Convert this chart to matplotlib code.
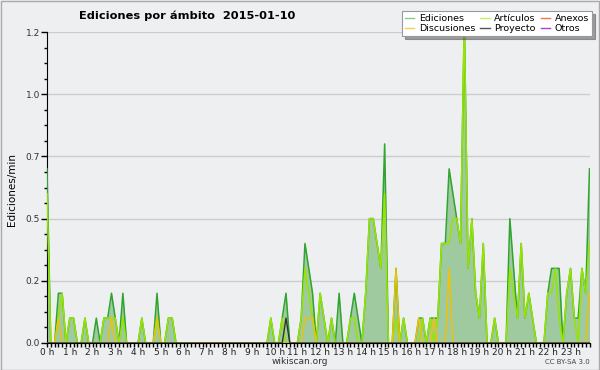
import numpy as np
import matplotlib
matplotlib.use("Agg")
import matplotlib.pyplot as plt
from matplotlib.lines import Line2D
from matplotlib.ticker import FixedLocator, FixedFormatter, MultipleLocator

# --- DATA: edits per minute, 10-minute bins (one row per hour) ---
ediciones = [
    0.7, 0.0, 0.0, 0.2, 0.2, 0.0,   # 0 h
    0.1, 0.1, 0.0, 0.0, 0.1, 0.0,   # 1 h
    0.0, 0.1, 0.0, 0.1, 0.1, 0.2,   # 2 h
    0.1, 0.0, 0.2, 0.0, 0.0, 0.0,   # 3 h
    0.0, 0.1, 0.0, 0.0, 0.0, 0.2,   # 4 h
    0.0, 0.0, 0.1, 0.1, 0.0, 0.0,   # 5 h
    0.0, 0.0, 0.0, 0.0, 0.0, 0.0,   # 6 h
    0.0, 0.0, 0.0, 0.0, 0.0, 0.0,   # 7 h
    0.0, 0.0, 0.0, 0.0, 0.0, 0.0,   # 8 h
    0.0, 0.0, 0.0, 0.0, 0.0, 0.1,   # 9 h
    0.0, 0.0, 0.1, 0.2, 0.0, 0.0,   # 10 h
    0.0, 0.1, 0.4, 0.3, 0.2, 0.0,   # 11 h
    0.2, 0.1, 0.0, 0.1, 0.0, 0.2,   # 12 h
    0.0, 0.0, 0.1, 0.2, 0.1, 0.0,   # 13 h
    0.2, 0.5, 0.5, 0.4, 0.3, 0.8,   # 14 h
    0.0, 0.0, 0.3, 0.0, 0.1, 0.0,   # 15 h
    0.0, 0.0, 0.1, 0.1, 0.0, 0.1,   # 16 h
    0.1, 0.1, 0.4, 0.4, 0.7, 0.6,   # 17 h
    0.5, 0.4, 1.3, 0.3, 0.5, 0.2,   # 18 h
    0.1, 0.4, 0.0, 0.0, 0.1, 0.0,   # 19 h
    0.0, 0.0, 0.5, 0.3, 0.1, 0.4,   # 20 h
    0.1, 0.2, 0.1, 0.0, 0.0, 0.0,   # 21 h
    0.2, 0.3, 0.3, 0.3, 0.0, 0.2,   # 22 h
    0.3, 0.1, 0.1, 0.3, 0.2, 0.7,   # 23 h
]

articulos = [
    0.6, 0.0, 0.0, 0.1, 0.2, 0.0,
    0.1, 0.1, 0.0, 0.0, 0.1, 0.0,
    0.0, 0.0, 0.0, 0.1, 0.1, 0.1,
    0.1, 0.0, 0.1, 0.0, 0.0, 0.0,
    0.0, 0.1, 0.0, 0.0, 0.0, 0.1,
    0.0, 0.0, 0.1, 0.1, 0.0, 0.0,
    0.0, 0.0, 0.0, 0.0, 0.0, 0.0,
    0.0, 0.0, 0.0, 0.0, 0.0, 0.0,
    0.0, 0.0, 0.0, 0.0, 0.0, 0.0,
    0.0, 0.0, 0.0, 0.0, 0.0, 0.1,
    0.0, 0.0, 0.1, 0.0, 0.0, 0.0,
    0.0, 0.1, 0.3, 0.2, 0.1, 0.0,
    0.2, 0.1, 0.0, 0.1, 0.0, 0.0,
    0.0, 0.0, 0.1, 0.1, 0.0, 0.0,
    0.2, 0.5, 0.5, 0.4, 0.3, 0.6,
    0.0, 0.0, 0.1, 0.0, 0.1, 0.0,
    0.0, 0.0, 0.0, 0.1, 0.0, 0.1,
    0.0, 0.1, 0.4, 0.4, 0.4, 0.5,
    0.5, 0.4, 1.3, 0.3, 0.5, 0.2,
    0.1, 0.4, 0.0, 0.0, 0.1, 0.0,
    0.0, 0.0, 0.3, 0.2, 0.1, 0.4,
    0.1, 0.2, 0.1, 0.0, 0.0, 0.0,
    0.2, 0.2, 0.3, 0.1, 0.0, 0.2,
    0.3, 0.1, 0.0, 0.3, 0.2, 0.4,
]

# sparse series: (bin index, value)
discusiones = [0.0] * 144
for b, v in [(3, 0.1), (17, 0.1), (29, 0.1), (68, 0.1), (69, 0.1), (70, 0.1),
             (92, 0.3), (98, 0.1), (102, 0.1), (106, 0.3), (143, 0.2)]:
    discusiones[b] = v

proyecto = [0.0] * 144
proyecto[63] = 0.1

anexos = [0.0] * 144
otros = [0.0] * 144

hour_labels = [f"{h} h" for h in range(24)]
ytick_vals = [0.0, 0.25, 0.5, 0.75, 1.0, 1.25]
ytick_labels = ["0.0", "0.2", "0.5", "0.7", "1.0", "1.2"]

# --- COLOURS ---
BG = "#eeeff1"
C_FILL = "#9fca9f"
C_EDIC = "#2fa52f"
C_ART = "#96e400"
C_DISC = "#f2c200"
C_PROY = "#333333"
C_ANEX = "#ee7744"
C_OTROS = "#9944ee"

x = np.arange(len(ediciones)) / 6.0

fig = plt.figure(figsize=(6, 3.7), dpi=100, facecolor=BG)
ax = fig.add_axes([47 / 600, 27 / 370, (589.5 - 47) / 600, (343 - 32) / 370])
ax.set_facecolor(BG)

ax.fill_between(x, ediciones, color=C_FILL, lw=0, zorder=2)
ax.plot(x, ediciones, color=C_EDIC, lw=1.1, zorder=3)
ax.plot(x, articulos, color=C_ART, lw=1.1, zorder=4)
ax.plot(x, anexos, color=C_ANEX, lw=0, zorder=4)
ax.plot(x, otros, color=C_OTROS, lw=0, zorder=4)
ax.plot(x, discusiones, color=C_DISC, lw=1.0, zorder=5)
ax.plot(x, proyecto, color=C_PROY, lw=1.0, zorder=6)

ax.set_xlim(0, x[-1])
ax.set_ylim(0, 1.25)

# grid + axes
for v in ytick_vals[1:]:
    ax.axhline(v, color="#cccccc", lw=1.0, zorder=1)
for s in ["top", "right"]:
    ax.spines[s].set_visible(False)
ax.spines["left"].set_color("black")
ax.spines["bottom"].set_color("black")
ax.spines["bottom"].set_zorder(7)

ax.xaxis.set_major_locator(FixedLocator(range(24)))
ax.xaxis.set_major_formatter(FixedFormatter(hour_labels))
ax.xaxis.set_minor_locator(MultipleLocator(1 / 6))
ax.yaxis.set_major_locator(FixedLocator(ytick_vals))
ax.yaxis.set_major_formatter(FixedFormatter(ytick_labels))
ax.yaxis.set_minor_locator(MultipleLocator(0.0625))
ax.tick_params(axis="x", which="major", length=3, width=1, labelsize=6.5, pad=0.5,
               labelcolor="#222222")
ax.tick_params(axis="x", which="minor", length=3, width=1)
ax.tick_params(axis="y", which="major", length=4, width=1, labelsize=6.5, pad=1,
               labelcolor="#333333")
ax.tick_params(axis="y", which="minor", length=2, width=1)

fig.text(12 / 600, 1 - 190 / 370, "Ediciones/min", rotation=90,
         ha="center", va="center", fontsize=7.5)

fig.text(187 / 600, 1 - 16 / 370, "Ediciones por ámbito  2015-01-10",
         ha="center", va="center", fontsize=8.2, fontweight="bold")
fig.text(300 / 600, 1 - 362 / 370, "wikiscan.org", ha="center", va="center",
         fontsize=6.5, color="#333333")
fig.text(590 / 600, 1 - 362 / 370, "CC BY-SA 3.0", ha="right", va="center",
         fontsize=5, color="#444444")

handles = [
    Line2D([], [], color="#88cc88", lw=1),
    Line2D([], [], color="#f5d050", lw=1),
    Line2D([], [], color="#c8f060", lw=1),
    Line2D([], [], color="#555555", lw=1),
    Line2D([], [], color=C_ANEX, lw=1),
    Line2D([], [], color=C_OTROS, lw=1),
]
labels = ["Ediciones", "Discusiones", "Artículos", "Proyecto", "Anexos", "Otros"]
leg = fig.legend(handles, labels, ncol=3, loc="upper right",
                 bbox_to_anchor=(592 / 600, 1 - 11 / 370), fontsize=6.8,
                 frameon=True, fancybox=False, shadow=True, framealpha=1,
                 edgecolor="#999999", handlelength=1.0, handletextpad=0.5,
                 columnspacing=0.5, labelspacing=0.15, borderpad=0.3,
                 borderaxespad=0)
leg.get_frame().set_linewidth(0.8)
leg.set_zorder(10)

# outer frame of the image
fig.patches.append(plt.Rectangle((0.001, 0.001), 0.997, 0.997, transform=fig.transFigure,
                                 fill=False, edgecolor="#aaaaaa", lw=1))

fig.savefig("out.png", dpi=100, facecolor=BG)
